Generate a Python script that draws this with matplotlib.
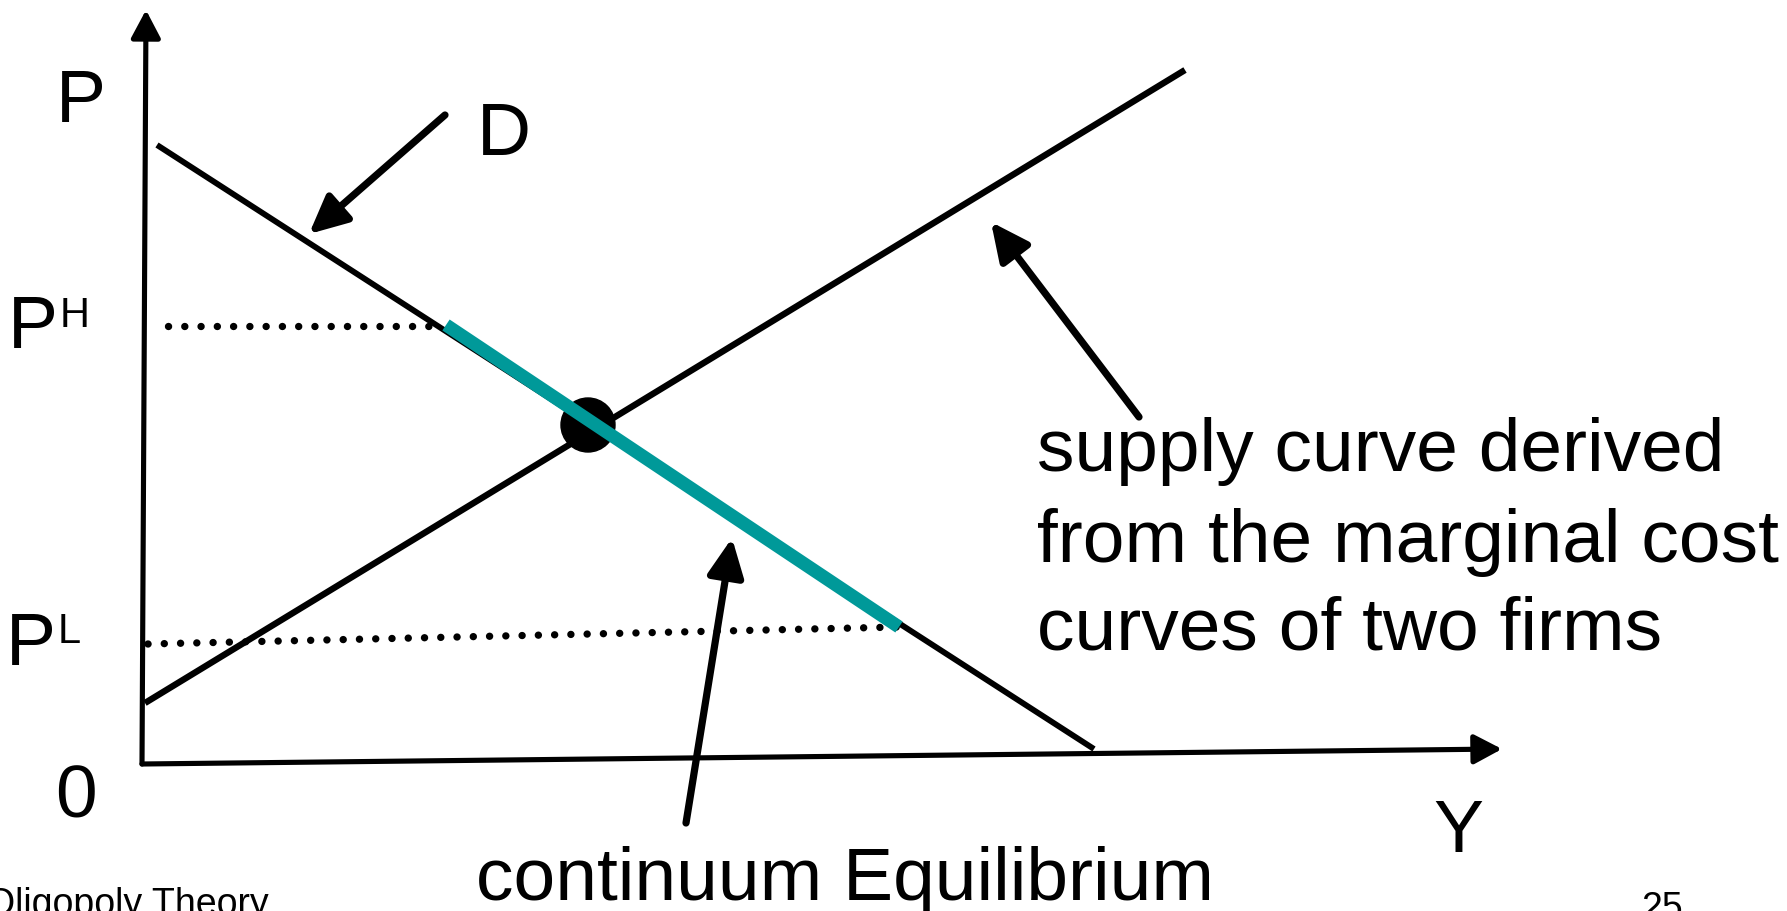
import matplotlib
matplotlib.use("Agg")
import matplotlib.pyplot as plt
from matplotlib.patches import Circle

# diagram geometry, in pixel units of the 1787x911 slide (y grows downward)
y_axis_x = [142, 146]
y_axis_y = [764, 10]
x_axis_x = [142, 1502]
x_axis_y = [764, 749]

demand_x = [157, 1094]
demand_y = [145, 749]
supply_x = [145, 1185]
supply_y = [703, 70]

continuum_x = [446, 899]
continuum_y = [325, 627]
equilibrium = (588, 425)

ph_x = [168, 443]
ph_y = [326, 326]
pl_x = [148, 899]
pl_y = [644, 627]

# callout arrows: (tail, tip)
d_arrow = ((445, 115), (309, 234))
supply_arrow = ((1139, 417), (991, 222))
continuum_arrow = ((686, 823), (732, 538))

supply_label = ["supply curve derived", "from the marginal cost", "curves of two firms"]
supply_label_y = [471, 562, 650]

FONT = "Liberation Sans"
BIG = 54
SMALL = 30
TEAL = "#009999"

fig = plt.figure(figsize=(17.87, 9.11), dpi=100)
ax = fig.add_axes([0, 0, 1, 1])
ax.set_xlim(0, 1787)
ax.set_ylim(911, 0)
ax.axis("off")

# axes with arrow heads
axis_style = dict(arrowstyle="-|>,head_length=0.85,head_width=0.45",
                  lw=3.7, color="black", shrinkA=0, shrinkB=0, mutation_scale=20)
ax.annotate("", xy=(y_axis_x[1], y_axis_y[1]), xytext=(y_axis_x[0], y_axis_y[0]),
            arrowprops=axis_style)
ax.annotate("", xy=(x_axis_x[1], x_axis_y[1]), xytext=(x_axis_x[0], x_axis_y[0]),
            arrowprops=axis_style)

# dotted price levels
for xs, ys in [(ph_x, ph_y), (pl_x, pl_y)]:
    ax.plot(xs, ys, color="black", lw=5.3, linestyle=(0, (0.01, 2.2)),
            dash_capstyle="round", zorder=2)

# demand and supply
ax.plot(demand_x, demand_y, color="black", lw=4.2, solid_capstyle="butt", zorder=3)
ax.plot(supply_x, supply_y, color="black", lw=4.6, solid_capstyle="butt", zorder=3)

ax.add_patch(Circle(equilibrium, 27, color="black", zorder=4))

ax.plot(continuum_x, continuum_y, color=TEAL, lw=9.5, solid_capstyle="butt", zorder=5)

# callout arrows
call_style = dict(arrowstyle="-|>,head_length=1.15,head_width=0.55",
                  lw=5.2, color="black", shrinkA=0, shrinkB=0, mutation_scale=20)
for tail, tip in [d_arrow, supply_arrow, continuum_arrow]:
    ax.annotate("", xy=tip, xytext=tail, arrowprops=call_style, zorder=6)

# labels
def label(x, y, s, size=BIG):
    ax.text(x, y, s, fontsize=size, family=FONT, ha="left", va="baseline", color="black")

label(56, 122, "P")
label(8, 348, "P")
label(60, 327, "H", SMALL)
label(6, 665, "P")
label(58, 643, "L", SMALL)
label(55, 818, "0")
label(477, 155, "D")
label(1433, 852, "Y")
for s, y in zip(supply_label, supply_label_y):
    label(1037, y, s)
label(476, 900, "continuum Equilibrium")
label(-14, 915, "Oligopoly Theory", 27)
label(1641, 919, "25", 27)

fig.savefig("out.png", dpi=100)
